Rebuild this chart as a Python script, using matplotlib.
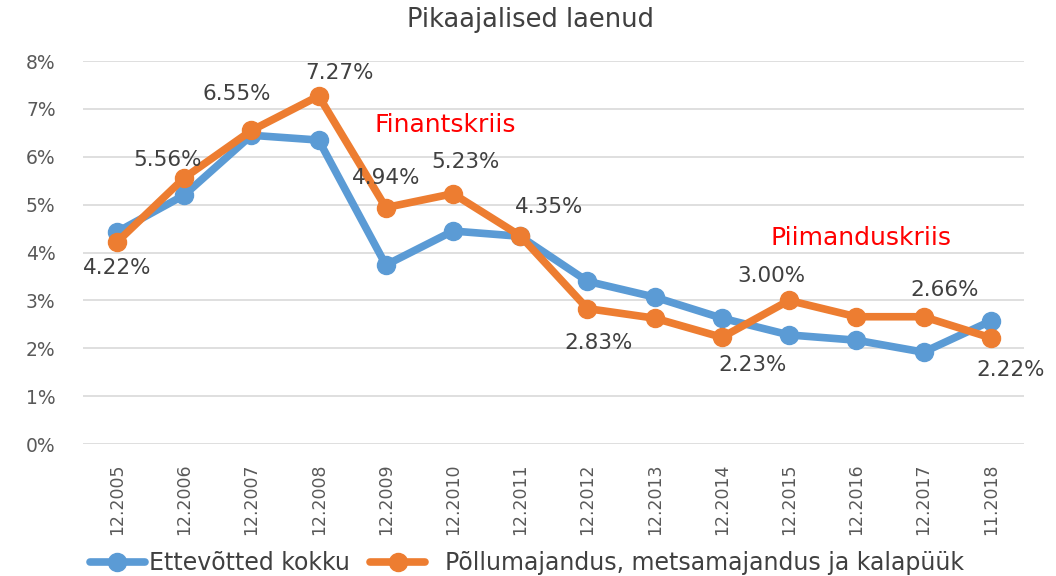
import matplotlib
matplotlib.use("Agg")
import matplotlib.pyplot as plt
import numpy as np

periods = ["12.2005", "12.2006", "12.2007", "12.2008", "12.2009", "12.2010", "12.2011",
           "12.2012", "12.2013", "12.2014", "12.2015", "12.2016", "12.2017", "11.2018"]
total = [4.43, 5.20, 6.45, 6.35, 3.74, 4.45, 4.34, 3.40, 3.07, 2.63, 2.28, 2.17, 1.92, 2.57]
agri = [4.22, 5.56, 6.55, 7.27, 4.94, 5.23, 4.35, 2.83, 2.63, 2.23, 3.00, 2.66, 2.66, 2.22]
# which orange points carry a value label, and its pixel offset from the point
label_idx = [0, 1, 2, 3, 4, 5, 6, 7, 9, 10, 12, 13]
label_off = [(0, -26), (-17, 18), (-15, 36), (21, 23), (0, 30), (12, 32), (29, 29),
             (11, -34), (31, -28), (-18, 24), (21, 27), (20, -32)]

blue = "#5b9bd5"
orange = "#ed7d31"
txt = "#404040"

fig = plt.figure(figsize=(10.56, 5.76), dpi=100)
ax = fig.add_axes([0.079, 0.229, 0.891, 0.665])

x = np.arange(len(periods))
ax.plot(x, total, color=blue, lw=5.5, marker="o", ms=13, solid_capstyle="round",
        label="Ettevõtted kokku", zorder=3)
ax.plot(x, agri, color=orange, lw=5.5, marker="o", ms=13, solid_capstyle="round",
        label="  Põllumajandus, metsamajandus ja kalapüük", zorder=4)

for i, (dx, dy) in zip(label_idx, label_off):
    ax.annotate(f"{agri[i]:.2f}%", (x[i], agri[i]), xytext=(dx, dy),
                textcoords="offset pixels", ha="center", va="center",
                fontsize=15.5, color=txt, zorder=5)

ax.text(4.88, 6.67, "Finantskriis", color="#ff0000", fontsize=18, ha="center", va="center")
ax.text(11.07, 4.31, "Piimanduskriis", color="#ff0000", fontsize=18, ha="center", va="center")

ax.set_xlim(-0.5, len(periods) - 0.5)
ax.set_ylim(0, 8)
ax.set_yticks(range(0, 9))
ax.set_yticklabels([f"{v}%" for v in range(0, 9)], fontsize=13.5, color="#595959")
ax.set_xticks(x)
ax.set_xticklabels(periods, rotation=90, fontsize=12.5, color="#595959")
ax.tick_params(length=0, pad=14)
ax.tick_params(axis="y", pad=20)
ax.grid(axis="y", color="#d9d9d9", lw=1.2)
ax.set_axisbelow(True)
for s in ax.spines.values():
    s.set_visible(False)

fig.text(0.502, 0.966, "Pikaajalised laenud", ha="center", va="center", fontsize=18.5, color="#404040")

leg = fig.legend(loc="center left", bbox_to_anchor=(0.085, 0.022), ncol=2, frameon=False,
                 fontsize=17, handlelength=2.33, columnspacing=0.85, handletextpad=0.2,
                 borderaxespad=0, borderpad=0)
for t in leg.get_texts():
    t.set_color(txt)

fig.savefig("out.png", dpi=100, facecolor="white")
